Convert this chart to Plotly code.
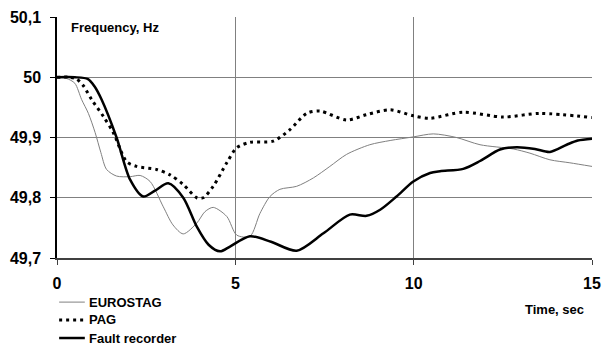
import plotly.graph_objects as go

# Frequency response after the disturbance (time in s, frequency in Hz)
eurostag_t = [0, 0.27, 0.5, 0.69, 0.88, 1.07, 1.23, 1.39, 1.67, 2.05, 2.33, 2.61, 2.98, 3.25, 3.54,
              3.92, 4.15, 4.38, 4.76, 5.04, 5.41, 5.69, 5.97, 6.25, 6.72, 7.19, 7.65, 8.12, 8.77,
              9.34, 9.99, 10.55, 11.2, 11.86, 12.79, 13.26, 13.82, 14.38, 15.0]
eurostag_f = [50.0, 49.998, 49.99, 49.963, 49.94, 49.908, 49.875, 49.847, 49.836, 49.835, 49.837,
              49.827, 49.785, 49.755, 49.74, 49.758, 49.777, 49.784, 49.769, 49.738, 49.736,
              49.774, 49.802, 49.814, 49.819, 49.833, 49.852, 49.872, 49.888, 49.895, 49.901,
              49.906, 49.9, 49.888, 49.881, 49.874, 49.863, 49.858, 49.852]

pag_t = [0, 0.35, 0.55, 0.75, 0.97, 1.3, 1.58, 1.95, 2.23, 2.79, 3.17, 3.54, 3.92, 4.1, 4.38,
         4.76, 5.04, 5.41, 6.06, 6.53, 7.0, 7.37, 8.12, 8.68, 9.34, 9.99, 10.46, 11.39, 12.51,
         13.54, 15.0]
pag_f = [50.0, 50.0, 49.997, 49.985, 49.963, 49.935, 49.908, 49.86, 49.852, 49.847, 49.838,
         49.822, 49.8, 49.8, 49.819, 49.858, 49.883, 49.892, 49.894, 49.913, 49.94, 49.944,
         49.929, 49.938, 49.946, 49.936, 49.932, 49.942, 49.934, 49.94, 49.933]

recorder_t = [0, 0.5, 0.87, 1.05, 1.25, 1.67, 2.05, 2.42, 2.75, 3.12, 3.54, 3.92, 4.25, 4.57,
              4.85, 5.41, 6.0, 6.72, 7.47, 8.21, 8.68, 9.06, 9.52, 9.99, 10.46, 10.74, 11.39,
              11.86, 12.42, 12.89, 13.4, 13.82, 14.29, 14.6, 15.0]
recorder_f = [50.0, 50.0, 49.997, 49.985, 49.963, 49.9, 49.83, 49.802, 49.812, 49.824, 49.8,
              49.752, 49.722, 49.711, 49.719, 49.736, 49.727, 49.712, 49.741, 49.772, 49.77,
              49.78, 49.802, 49.827, 49.841, 49.844, 49.848, 49.861, 49.88, 49.884, 49.881,
              49.876, 49.888, 49.895, 49.898]

y_ticks = [49.7, 49.8, 49.9, 50.0, 50.1]
y_labels = ["49,7", "49,8", "49,9", "50", "50,1"]
x_ticks = [0, 5, 10, 15]
x_labels = ["0", "5", "10", "15"]

series_names = ["EUROSTAG", "PAG", "Fault recorder"]

FONT = "Liberation Sans, Arial, sans-serif"

styles = [
    dict(color="#808080", width=1),
    dict(color="black", width=3, dash="3px,4px"),
    dict(color="black", width=2.5),
]

fig = go.Figure()
for (t, f), name, st in zip([(eurostag_t, eurostag_f), (pag_t, pag_f), (recorder_t, recorder_f)],
                            series_names, styles):
    fig.add_trace(go.Scatter(x=t, y=f, name=name, mode="lines", showlegend=False,
                             line=dict(shape="spline", smoothing=0.8, **st)))

# Legend drawn below the axes: a short sample line and a bold label per series
legend_y = [-0.183, -0.257, -0.332]
shapes = []
annotations = []
for name, st, ly in zip(series_names, styles, legend_y):
    shapes.append(dict(type="line", xref="paper", yref="paper", x0=0.004, x1=0.052,
                       y0=ly, y1=ly, line=st))
    annotations.append(dict(text="<b>%s</b>" % name, xref="paper", yref="paper", x=0.057,
                            y=ly, xanchor="left", yanchor="middle", showarrow=False,
                            font=dict(size=13)))

annotations += [
    dict(text="<b>Frequency, Hz</b>", xref="paper", yref="paper", x=0.022, y=0.9585,
         xanchor="left", yanchor="middle", showarrow=False, font=dict(size=13)),
    dict(text="<b>Time, sec</b>", xref="paper", yref="paper", x=0.989, y=-0.212,
         xanchor="right", yanchor="middle", showarrow=False, font=dict(size=13)),
]

fig.update_layout(
    width=602, height=345,
    margin=dict(l=57, r=10, t=17, b=87, autoexpand=False),
    paper_bgcolor="white", plot_bgcolor="white",
    font=dict(family=FONT, color="black"),
    showlegend=False,
    shapes=shapes,
    annotations=annotations,
    xaxis=dict(range=[0, 15], tickvals=x_ticks, ticktext=["<b>%s</b>" % s for s in x_labels],
               tickfont=dict(size=16, family=FONT), showgrid=True, gridcolor="#808080",
               gridwidth=1, ticks="outside", ticklen=5, tickcolor="#404040",
               ticklabelstandoff=5, automargin=False,
               showline=True, linecolor="#404040", linewidth=1.5, zeroline=False,
               fixedrange=True),
    yaxis=dict(range=[49.7, 50.1], tickvals=y_ticks, ticktext=["<b>%s</b>" % s for s in y_labels],
               tickfont=dict(size=16, family=FONT), showgrid=True, gridcolor="#808080",
               gridwidth=1, ticks="outside", ticklen=5, tickcolor="black",
               ticklabelstandoff=6, automargin=False,
               showline=True, linecolor="black", linewidth=1.5, zeroline=False,
               fixedrange=True),
)

fig.write_html("out.html")
